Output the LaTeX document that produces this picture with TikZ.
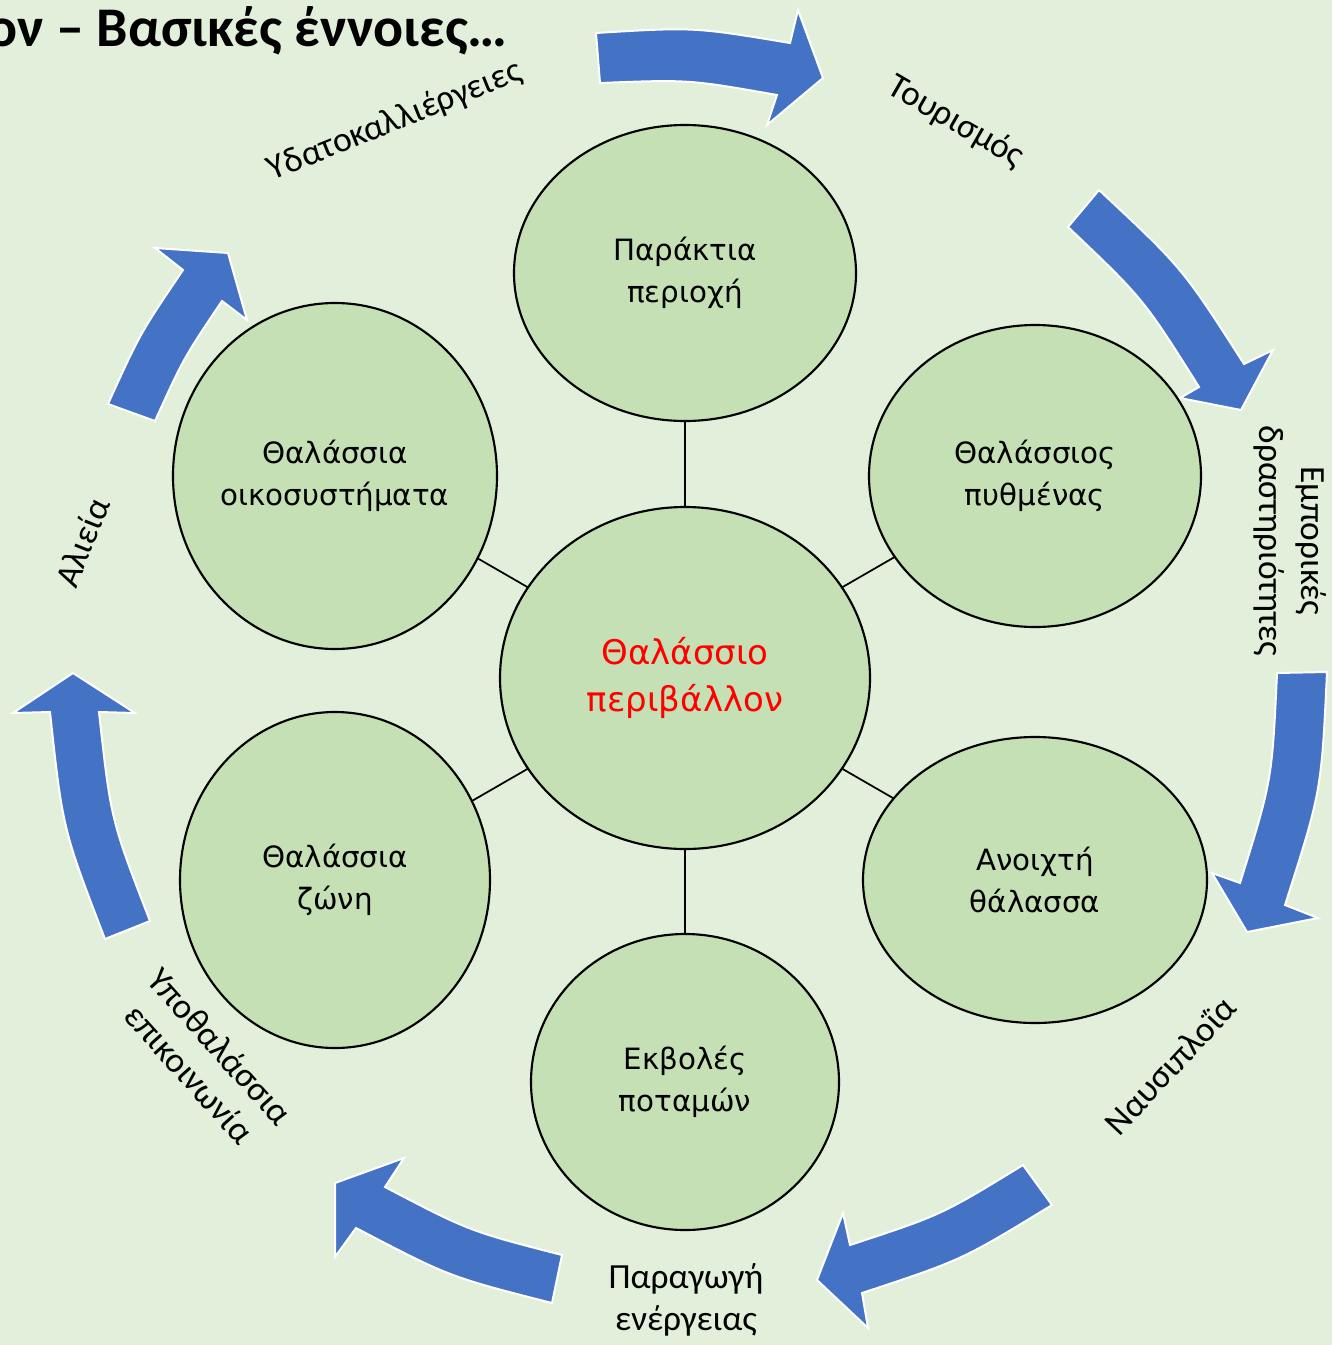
\documentclass[tikz,border=0pt]{standalone}
\usepackage{fontspec}
\setmainfont{Carlito}
\newfontfamily\circfont{DejaVu Sans}
\usetikzlibrary{shapes.geometric}
\definecolor{bg}{HTML}{E2EFDA}
\definecolor{cfill}{HTML}{C5E0B4}
\definecolor{arrblue}{HTML}{4472C4}
\begin{document}
\begin{tikzpicture}[x=0.75pt,y=-0.75pt,
  circ/.style={ellipse, draw=black, line width=1.6pt, fill=cfill, inner sep=0pt, outer sep=0pt, align=center, font=\circfont\fontsize{22}{31.5}\selectfont},
  conn/.style={line width=1.3pt, draw=black},
  lbl/.style={font=\fontsize{26.5}{31}\selectfont, align=center, inner sep=0pt},
  blockarrow/.style={fill=arrblue, draw=white, line width=1.5pt, line join=miter}]
\useasboundingbox (0,0) rectangle (1332,1345);
\fill[bg] (0,0) rectangle (1332,1345);

% curved block arrows
\path[blockarrow] (596,33) .. controls (694,27) .. (790,43) -- (798,10) -- (823,78) -- (767,125) -- (777,95) .. controls (689,79.5) .. (600,83) -- cycle;
\path[blockarrow] (1099,190) .. controls (1182.5,268) .. (1244,364) -- (1273,350) -- (1241,410) -- (1180,398) -- (1199,387) .. controls (1143.4,298.7) .. (1068,227) -- cycle;
\path[blockarrow] (1327,672) .. controls (1321.4,791.2) .. (1285,905) -- (1318,918) -- (1247,932) -- (1212,873) -- (1240,883) .. controls (1272,780.4) .. (1277,673) -- cycle;
\path[blockarrow] (1052,1205) .. controls (962.2,1259.9) .. (862,1293) -- (868,1328) -- (817,1280) -- (843,1213) -- (850,1245) .. controls (941.3,1215) .. (1023,1165) -- cycle;
\path[blockarrow] (552,1303) .. controls (449.5,1276.9) .. (356,1228) -- (335,1257) -- (335,1183) -- (404,1158) -- (385,1187) .. controls (469.5,1231.2) .. (562,1255) -- cycle;
\path[blockarrow] (105,939) .. controls (62.7,829.1) .. (50,712) -- (13,713) -- (73,673) -- (135,713) -- (99,712) .. controls (110.9,819.9) .. (150,921) -- cycle;
\path[blockarrow] (108,404) .. controls (140,333.5) .. (183,270) -- (155,248) -- (228,253) -- (247,320) -- (222,301) .. controls (183.7,357.9) .. (155,421) -- cycle;

% circles
\node[circ, minimum width=256.5pt, minimum height=222pt] (t) at (685,273) {Παράκτια\\περιοχή};
\node[circ, minimum width=249pt, minimum height=226.5pt] (tr) at (1035,476) {Θαλάσσιος\\πυθμένας};
\node[circ, minimum width=258pt, minimum height=214.5pt] (br) at (1035,880) {Ανοιχτή\\θάλασσα};
\node[circ, minimum width=231pt, minimum height=222pt] (b) at (685,1082) {Εκβολές\\ποταμών};
\node[circ, minimum width=232.5pt, minimum height=252pt] (bl) at (335,880) {Θαλάσσια\\ζώνη};
\node[circ, minimum width=243pt, minimum height=259.5pt] (tl) at (335,476) {Θαλάσσια\\οικοσυστήματα};
\node[circ, minimum width=277.5pt, minimum height=256.5pt, text=red, font=\circfont\fontsize{25.5}{35.5}\selectfont] (c) at (685,678) {Θαλάσσιο\\περιβάλλον};

% connectors
\draw[conn] (c) -- (t);
\draw[conn] (c) -- (tr);
\draw[conn] (c) -- (br);
\draw[conn] (c) -- (b);
\draw[conn] (c) -- (bl);
\draw[conn] (c) -- (tl);

% outer labels
\node[lbl, rotate=22] (l1) at (395,121) {Υδατοκαλλιέργειες};
\node[lbl, rotate=-30] (l2) at (956,122) {Τουρισμός};
\node[lbl, rotate=-90] (l3) at (1290,541) {Εμπορικές\\δραστηριότητες};
\node[lbl, rotate=47] (l4) at (1170,1065) {Ναυσιπλοΐα};
\node[lbl] (l5) at (686,1300) {Παραγωγή\\ενέργειας};
\node[lbl, rotate=-48] (l6) at (205,1060) {Υποθαλάσσια\\επικοινωνία};
\node[lbl, rotate=68] (l7) at (82,542) {Αλιεία};

% title
\node[font=\bfseries\fontsize{42}{50}\selectfont, anchor=base east, inner sep=0pt] (title) at (508,47) {λον – Βασικές έννοιες…};
\end{tikzpicture}
\end{document}
